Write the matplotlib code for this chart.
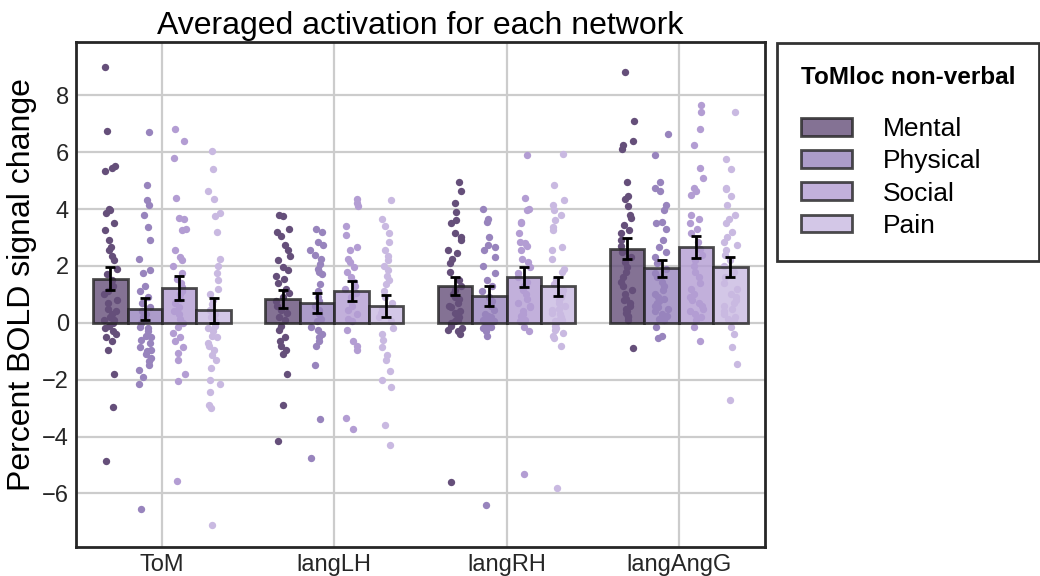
import numpy as np
import matplotlib
matplotlib.use("Agg")
import matplotlib.pyplot as plt
from matplotlib.patches import Patch

plt.rcParams['font.family'] = ['Liberation Sans', 'DejaVu Sans']

networks = ['ToM', 'langLH', 'langRH', 'langAngG']
conditions = ['Mental', 'Physical', 'Social', 'Pain']
colors = ['#654f7a', '#9884bd', '#b39dd3', '#c9b9e1']

# per-subject percent signal change, network -> condition
tom_mental = [9.0, 6.75, 5.5, 5.45, 5.35, 4.0, 3.95, 3.85, 3.5, 3.25, 2.9, 2.65, 2.55, 2.35, 2.2,
              1.9, 1.7, 1.5, 1.3, 1.1, 1.0, 0.8, 0.7, 0.5, 0.4, 0.3, 0.2, 0.1, 0.1, 0.0,
              -0.1, -0.2, -0.3, -0.4, -0.5, -0.65, -0.95, -1.8, -2.95, -4.85]
tom_physical = [6.7, 4.85, 4.3, 4.15, 3.8, 3.35, 2.9, 2.25, 1.85, 1.75, 1.3, 1.1, 0.9, 0.7, 0.55,
                0.4, 0.3, 0.2, 0.1, 0.0, -0.15, -0.2, -0.3, -0.45, -0.5, -0.6, -0.7, -0.85, -0.95,
                -1.0, -1.1, -1.25, -1.35, -1.5, -1.65, -1.9, -2.15, -6.55]
tom_social = [6.8, 6.4, 5.8, 4.4, 3.7, 3.65, 3.3, 3.25, 2.55, 2.3, 2.2, 2.0, 1.75, 1.55, 1.4,
              1.25, 1.1, 1.0, 0.85, 0.7, 0.55, 0.4, 0.3, 0.15, 0.0, -0.15, -0.35, -0.5, -0.65,
              -0.85, -1.05, -1.3, -1.8, -2.05, -5.55]
tom_pain = [6.05, 5.4, 4.65, 4.35, 3.85, 3.75, 3.2, 2.25, 2.0, 1.75, 1.5, 1.2, 1.0, 0.8, 0.65,
            0.45, 0.3, 0.2, 0.05, -0.1, -0.2, -0.3, -0.45, -0.5, -0.7, -0.8, -0.95, -1.15, -1.3,
            -1.6, -2.0, -2.15, -2.45, -2.9, -3.0, -7.1]

lh_mental = [3.8, 3.75, 3.3, 3.2, 3.05, 2.75, 2.55, 2.35, 2.2, 1.95, 1.85, 1.65, 1.55, 1.4, 1.2,
             1.05, 0.9, 0.75, 0.6, 0.45, 0.35, 0.2, 0.1, -0.1, -0.25, -0.5, -0.65, -0.8, -0.95,
             -1.1, -1.8, -2.9, -4.15]
lh_physical = [3.3, 3.2, 2.85, 2.75, 2.55, 2.4, 2.25, 2.05, 1.9, 1.8, 1.7, 1.35, 1.1, 0.9, 0.75,
               0.6, 0.45, 0.3, 0.15, 0.05, -0.15, -0.25, -0.4, -0.5, -0.65, -0.8, -1.5, -3.4, -4.75]
lh_social = [4.35, 4.2, 4.1, 3.4, 3.1, 2.65, 2.55, 2.25, 2.15, 1.95, 1.8, 1.6, 1.45, 1.3, 1.2,
             1.05, 0.9, 0.75, 0.6, 0.45, 0.3, 0.15, 0.05, -0.25, -0.65, -0.8, -0.95, -3.35, -3.75]
lh_pain = [4.3, 3.65, 3.4, 3.15, 2.85, 2.55, 2.35, 2.2, 2.0, 1.85, 1.65, 1.5, 1.35, 1.1, 0.9,
           0.7, 0.5, 0.35, 0.2, 0.05, -0.2, -0.4, -0.6, -0.85, -1.15, -1.3, -1.7, -2.0, -2.25,
           -3.6, -4.3]

rh_mental = [4.95, 4.65, 4.2, 3.9, 3.6, 3.5, 3.15, 3.0, 2.9, 2.55, 2.45, 2.25, 2.1, 1.8, 1.5,
             1.3, 1.15, 1.0, 0.9, 0.85, 0.7, 0.6, 0.55, 0.4, 0.35, 0.3, 0.2, 0.15, 0.1, 0.05,
             0.0, -0.1, -0.2, -0.25, -0.3, -0.4, -5.6]
rh_physical = [4.0, 3.65, 3.55, 3.0, 2.75, 2.65, 2.55, 2.3, 2.0, 1.75, 1.5, 1.3, 1.1, 0.9, 0.75,
               0.6, 0.45, 0.3, 0.25, 0.2, 0.1, 0.05, 0.0, -0.05, -0.1, -0.15, -0.2, -0.3, -0.45,
               -6.4]
rh_social = [5.9, 4.4, 4.0, 3.95, 3.55, 3.5, 3.15, 2.85, 2.8, 2.7, 2.55, 2.25, 2.15, 1.95, 1.75,
             1.6, 1.45, 1.3, 1.15, 1.0, 0.85, 0.7, 0.6, 0.55, 0.4, 0.3, 0.25, 0.1, 0.05, -0.15,
             -0.3, -5.3]
rh_pain = [5.95, 4.85, 4.3, 4.15, 3.95, 3.8, 3.6, 3.35, 3.25, 2.65, 2.55, 2.25, 1.9, 1.8, 1.55,
           1.35, 1.15, 1.0, 0.9, 0.8, 0.7, 0.6, 0.5, 0.45, 0.35, 0.3, 0.2, 0.15, 0.1, 0.05, 0.0,
           -0.1, -0.2, -0.25, -0.35, -0.45, -0.55, -0.8, -5.8]

ang_mental = [8.8, 7.1, 6.4, 6.25, 6.1, 4.95, 4.45, 4.35, 4.1, 3.8, 3.7, 3.45, 3.25, 3.15, 2.9,
              2.7, 2.5, 2.3, 2.15, 1.95, 1.8, 1.6, 1.45, 1.3, 1.15, 1.0, 0.85, 0.8, 0.7, 0.6,
              0.5, 0.4, 0.35, 0.25, 0.2, 0.1, -0.9]
ang_physical = [6.65, 5.9, 4.95, 4.75, 4.65, 4.15, 3.95, 3.55, 3.5, 3.3, 2.9, 2.65, 2.5, 2.3, 2.1,
                1.9, 1.75, 1.6, 1.45, 1.3, 1.15, 1.0, 0.9, 0.85, 0.75, 0.7, 0.6, 0.55, 0.5, 0.4,
                0.3, 0.25, 0.2, 0.15, 0.1, -0.15, -0.45, -0.55]
ang_social = [7.65, 7.4, 6.8, 6.25, 5.45, 5.1, 4.75, 4.65, 4.5, 3.8, 3.65, 3.5, 3.3, 3.15, 2.85,
              2.6, 2.4, 2.2, 2.0, 1.8, 1.6, 1.4, 1.2, 1.0, 0.9, 0.8, 0.7, 0.6, 0.5, 0.4, 0.3,
              0.2, 0.1, -0.15, -0.65]
ang_pain = [7.4, 5.75, 5.4, 4.75, 4.7, 4.45, 4.15, 3.8, 3.65, 3.5, 3.2, 3.0, 2.85, 2.75, 2.55,
            2.4, 2.2, 2.0, 1.8, 1.6, 1.4, 1.2, 1.0, 0.9, 0.8, 0.7, 0.6, 0.5, 0.4, 0.3, 0.2,
            0.15, 0.1, -0.15, -0.4, -0.85, -1.45, -2.7]

data = [
    [tom_mental, tom_physical, tom_social, tom_pain],
    [lh_mental, lh_physical, lh_social, lh_pain],
    [rh_mental, rh_physical, rh_social, rh_pain],
    [ang_mental, ang_physical, ang_social, ang_pain],
]

fig = plt.figure(figsize=(10.4, 5.76), dpi=100)
ax = fig.add_axes([0.073, 0.05, 0.6625, 0.877])

bar_w = 0.2
offsets = [-0.3, -0.1, 0.1, 0.3]
rng = np.random.default_rng(3)

for i, net in enumerate(networks):
    for j, cond in enumerate(conditions):
        vals = np.asarray(data[i][j])
        x = i + offsets[j]
        jit = rng.uniform(-0.04, 0.04, len(vals))
        ax.scatter(x + jit, vals, s=28, color=colors[j], linewidths=0, zorder=2)
        m = vals.mean()
        se = vals.std(ddof=1) / np.sqrt(len(vals))
        ax.bar(x, m, width=bar_w, color=colors[j], alpha=0.8,
               edgecolor='#222222', linewidth=2, zorder=3)
        ax.errorbar(x, m, yerr=se, color='black', lw=2, capsize=3.5, capthick=2, zorder=4)

ax.set_xlim(-0.5, 3.5)
ax.set_ylim(-7.89, 9.87)
ax.set_xticks(range(len(networks)))
ax.set_xticklabels(networks)
ax.set_yticks(np.arange(-6, 9, 2))
ax.set_yticklabels([f'{v}'.replace('-', '\u2212') for v in range(-6, 9, 2)])
ax.tick_params(labelsize=17, length=0, pad=5, colors='#262626')
ax.grid(True, color='#cccccc', lw=1.6, zorder=0)
ax.set_axisbelow(True)
for s in ax.spines.values():
    s.set_color('#262626')
    s.set_linewidth(2)

ax.set_ylabel('Percent BOLD signal change', fontsize=23, color='black')
ax.yaxis.set_label_coords(-0.057, 0.519)
ax.set_title('Averaged activation for each network', fontsize=23, pad=6)

handles = [Patch(facecolor=c, alpha=0.8, edgecolor='#222222', linewidth=2) for c in colors]
leg = fig.legend(handles, conditions, loc='upper left', bbox_to_anchor=(0.747, 0.926),
                 borderaxespad=0,
                 title='ToMloc non-verbal', title_fontproperties={'weight': 'bold', 'size': 17.5},
                 fontsize=19, frameon=True, fancybox=False, edgecolor='black',
                 handlelength=1.95, handleheight=0.65, handletextpad=1.15, labelspacing=0.31,
                 borderpad=0.9, alignment='left')
leg.get_frame().set_linewidth(2)
leg._legend_box.sep = 20

fig.savefig('out.png', dpi=100)
